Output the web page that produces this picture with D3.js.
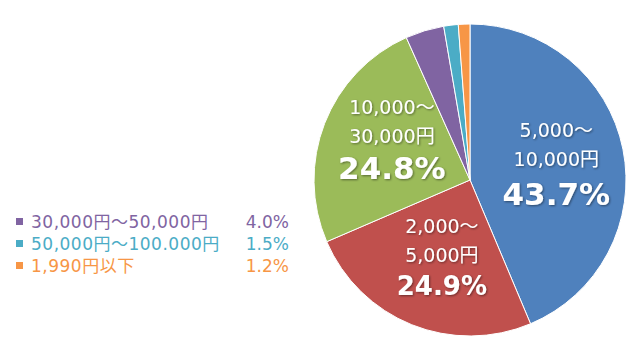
<!doctype html>
<html>
<head>
<meta charset="utf-8">
<style>
  body { margin: 0; background: #fff; }
  svg { display: block; }
  text { font-family: 'DejaVu Sans', 'Noto Sans CJK JP', sans-serif; }
  .lbl { fill: #fff; font-size: 19px; }
  .pct { fill: #fff; font-weight: bold; }
  .leg { font-size: 17px; }
  .leg.name { letter-spacing: 0.5px; }
</style>
<script src="https://d3js.org/d3.v7.min.js"></script>
</head>
<body>
<svg width="640" height="351"></svg>
<script>
// slices, clockwise from 12 o'clock
const names = ['5,000～10,000円', '2,000～5,000円', '10,000～30,000円',
               '30,000円～50,000円', '50,000円～100.000円', '1,990円以下'];
const labelLines = [['5,000～', '10,000円'], ['2,000～', '5,000円'], ['10,000～', '30,000円'], null, null, null];
const values = [43.7, 24.9, 24.8, 4.0, 1.5, 1.2];
const colors = ['#4f81bd', '#c0504d', '#9bbb59', '#8064a2', '#4bacc6', '#f79646'];
const legendIdx = [3, 4, 5];

const svg = d3.select('svg');
const cx = 470, cy = 180, r = 156;

// label block nudges: dx, dy, percent font size, percent baseline
const labelNudge = [[2, 0, 31, 42], [4, -1, 26, 36], [2, -9, 31, 39]];

const defs = svg.append('defs');
const f = defs.append('filter').attr('id', 'sh').attr('x', '-20%').attr('y', '-20%')
  .attr('width', '140%').attr('height', '140%');
f.append('feDropShadow').attr('dx', 1).attr('dy', 1).attr('stdDeviation', 1)
  .attr('flood-color', '#000').attr('flood-opacity', 0.45);

const pie = d3.pie().sort(null).value(d => d)(values);
const arc = d3.arc().innerRadius(0).outerRadius(r);
const labelArc = d3.arc().innerRadius(86).outerRadius(86);

const g = svg.append('g').attr('transform', `translate(${cx},${cy})`);

g.selectAll('path.slice')
  .data(pie)
  .enter()
  .append('path')
  .attr('class', 'slice')
  .attr('d', arc)
  .attr('fill', (d, i) => colors[i])
  .attr('stroke', '#fff')
  .attr('stroke-width', 1);

const labs = g.selectAll('g.lab')
  .data(pie.filter((d, i) => labelLines[i]))
  .enter()
  .append('g')
  .attr('class', 'lab')
  .attr('filter', 'url(#sh)')
  .attr('transform', d => {
    const c = labelArc.centroid(d);
    const n = labelNudge[d.index];
    return `translate(${c[0] + n[0]},${c[1] + n[1]})`;
  });

labs.each(function (d) {
  const sel = d3.select(this);
  const lines = labelLines[d.index];
  const n = labelNudge[d.index];
  sel.append('text').attr('class', 'lbl').attr('text-anchor', 'middle')
    .attr('y', -26).text(lines[0]);
  sel.append('text').attr('class', 'lbl').attr('text-anchor', 'middle')
    .attr('y', 3).text(lines[1]);
  sel.append('text').attr('class', 'pct').attr('text-anchor', 'middle')
    .attr('y', n[3])
    .style('font-size', n[2] + 'px')
    .text(values[d.index].toFixed(1) + '%');
});

// legend for the thin slices
const leg = svg.append('g').attr('transform', 'translate(16,228)');
const rows = leg.selectAll('g')
  .data(legendIdx)
  .enter()
  .append('g')
  .attr('transform', (d, i) => `translate(0,${i * 22})`);

rows.append('rect')
  .attr('x', 0).attr('y', -10)
  .attr('width', 7).attr('height', 7)
  .attr('fill', d => colors[d]);

rows.append('text')
  .attr('class', 'leg name')
  .attr('x', 15)
  .attr('fill', d => colors[d])
  .text(d => names[d]);

rows.append('text')
  .attr('class', 'leg')
  .attr('x', 273)
  .attr('text-anchor', 'end')
  .attr('fill', d => colors[d])
  .text(d => values[d].toFixed(1) + '%');
</script>
</body>
</html>
